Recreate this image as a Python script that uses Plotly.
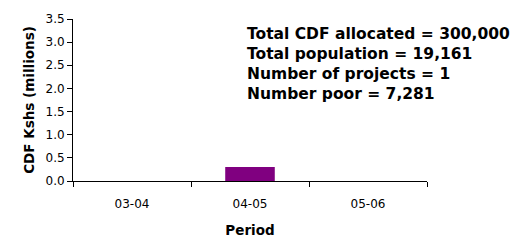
import plotly.graph_objects as go

periods = ["03-04", "04-05", "05-06"]
cdf_millions = [0, 0.3, 0]
info_lines = [
    "Total CDF allocated = 300,000",
    "Total population = 19,161",
    "Number of projects = 1",
    "Number poor = 7,281",
]

FONT = "DejaVu Sans"

fig = go.Figure()
fig.add_trace(go.Bar(x=periods, y=cdf_millions, marker_color="#800080",
                     marker_line_width=0, width=0.42, hoverinfo="skip"))

fig.update_layout(
    width=518, height=245,
    margin=dict(l=73, r=91, t=19, b=64, autoexpand=False),
    paper_bgcolor="white", plot_bgcolor="white",
    font=dict(family=FONT, color="black", size=12),
    showlegend=False,
)
fig.update_xaxes(
    type="category", tickson="boundaries", ticks="outside", ticklen=5,
    tickcolor="black", showline=True, linecolor="black", linewidth=1,
    showgrid=False, tickfont=dict(size=12), ticklabelstandoff=12,
    title=dict(text="<b>Period</b>", font=dict(size=13.5), standoff=15),
)
fig.update_yaxes(
    range=[0, 3.5], dtick=0.5, tickformat=".1f", ticks="outside", ticklen=5,
    tickcolor="black", showline=True, linecolor="black", linewidth=1,
    showgrid=False, zeroline=False, tickfont=dict(size=12),
    title=dict(text="<b>CDF Kshs (millions)</b>", font=dict(size=13.5), standoff=7),
)
fig.add_annotation(
    xref="paper", yref="paper", x=(245 - 73) / 354, y=(181 - 64) / 162,
    xanchor="left", yanchor="middle", align="left", showarrow=False,
    text="<br>".join("<b>%s</b>" % s for s in info_lines),
    font=dict(size=15.5, color="black"),
)
fig.write_html("out.html", config={"displayModeBar": False},
               post_script="document.body.style.margin='0';")
